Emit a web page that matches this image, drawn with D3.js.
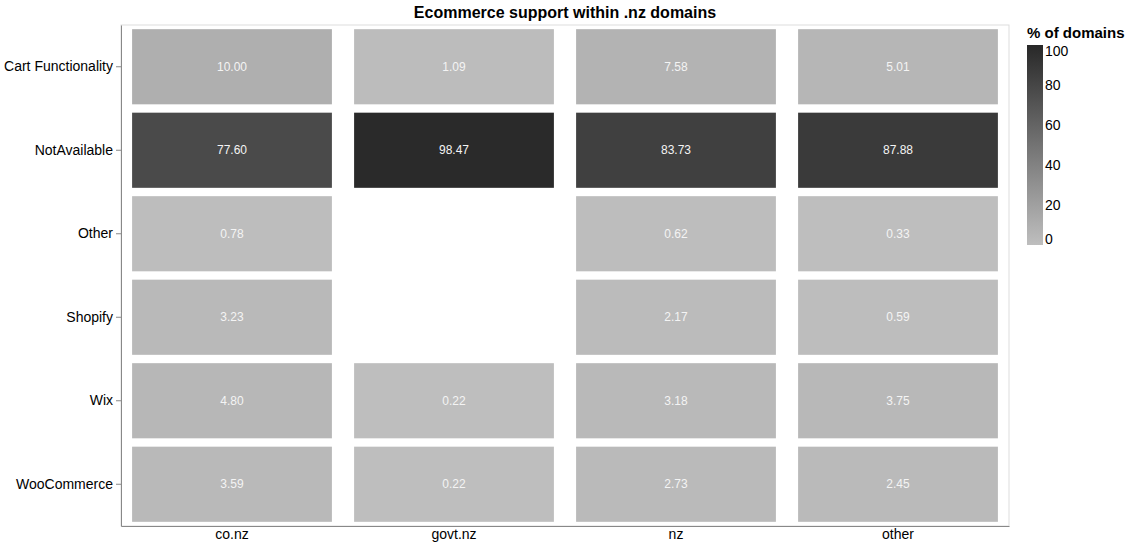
<!DOCTYPE html>
<html>
<head>
<meta charset="utf-8">
<script src="https://cdn.jsdelivr.net/npm/d3@7"></script>
<style>
  body { margin: 0; background: #fff; }
  svg text { font-family: "Liberation Sans", Arial, Helvetica, sans-serif; }
</style>
</head>
<body>
<div id="chart"></div>
<script>
const width = 1130, height = 546;
const margin = {top: 25, right: 121, bottom: 20, left: 121};

const domains = ["co.nz", "govt.nz", "nz", "other"];
const platforms = ["Cart Functionality", "NotAvailable", "Other", "Shopify", "Wix", "WooCommerce"];
// percentage of domains per platform, one array per domain (null = no data)
const coNzValues = [10.00, 77.60, 0.78, 3.23, 4.80, 3.59];
const govtNzValues = [1.09, 98.47, null, null, 0.22, 0.22];
const nzValues = [7.58, 83.73, 0.62, 2.17, 3.18, 2.73];
const otherValues = [5.01, 87.88, 0.33, 0.59, 3.75, 2.45];
const legendTicks = [0, 20, 40, 60, 80, 100];

const seriesByDomain = {
    "co.nz": coNzValues,
    "govt.nz": govtNzValues,
    "nz": nzValues,
    "other": otherValues
};

const cells = [];
domains.forEach(dom => {
    seriesByDomain[dom].forEach((v, i) => {
        if (v !== null) cells.push({domain: dom, platform: platforms[i], value: v});
    });
});

const plotW = width - margin.left - margin.right;
const plotH = height - margin.top - margin.bottom;

const svg = d3.select("#chart")
    .append("svg")
    .attr("width", width)
    .attr("height", height);

const g = svg.append("g")
    .attr("transform", "translate(" + margin.left + "," + margin.top + ")");

const xScale = d3.scaleBand()
    .domain(domains)
    .range([0, plotW])
    .paddingInner(0.1)
    .paddingOuter(0.05);

const yScale = d3.scaleBand()
    .domain(platforms)
    .range([0, plotH])
    .paddingInner(0.1)
    .paddingOuter(0.05);

const color = d3.scaleLinear()
    .domain([0, 100])
    .range(["#bebebe", "#282828"]);

// frame: light top/right, darker axes
g.append("rect")
    .attr("x", 0).attr("y", 0)
    .attr("width", plotW).attr("height", plotH)
    .attr("fill", "none")
    .attr("stroke", "#ddd");

g.selectAll("rect.cell")
    .data(cells)
    .enter().append("rect")
    .attr("class", "cell")
    .attr("x", d => xScale(d.domain))
    .attr("y", d => yScale(d.platform))
    .attr("width", xScale.bandwidth())
    .attr("height", yScale.bandwidth())
    .attr("fill", d => color(d.value));

g.selectAll("text.cell-label")
    .data(cells)
    .enter().append("text")
    .attr("class", "cell-label")
    .attr("x", d => xScale(d.domain) + xScale.bandwidth() / 2)
    .attr("y", d => yScale(d.platform) + yScale.bandwidth() / 2)
    .attr("dy", "0.35em")
    .attr("text-anchor", "middle")
    .attr("font-size", 12)
    .attr("fill", "#f4f4f4")
    .text(d => d.value.toFixed(2));

const xAxis = d3.axisBottom(xScale).tickSize(0).tickPadding(3);
const yAxis = d3.axisLeft(yScale).tickSizeInner(5).tickSizeOuter(0).tickPadding(3);

const xg = g.append("g")
    .attr("transform", "translate(0," + plotH + ")")
    .call(xAxis);
xg.select(".domain").attr("stroke", "#888");
xg.selectAll("text").attr("font-size", 14).attr("fill", "#000").attr("font-family", null);

const yg = g.append("g").call(yAxis);
yg.select(".domain").attr("stroke", "#888");
yg.selectAll(".tick line").attr("stroke", "#888");
yg.selectAll("text").attr("font-size", 14).attr("fill", "#000").attr("font-family", null);

svg.append("text")
    .attr("x", margin.left + plotW / 2)
    .attr("y", 18)
    .attr("text-anchor", "middle")
    .attr("font-size", 16)
    .attr("font-weight", "bold")
    .text("Ecommerce support within .nz domains");

// legend
const legendX = 1027, legendTop = 45, legendH = 200, legendW = 16;
const defs = svg.append("defs");
const grad = defs.append("linearGradient")
    .attr("id", "legend-grad")
    .attr("x1", "0").attr("y1", "1").attr("x2", "0").attr("y2", "0");
grad.append("stop").attr("offset", "0%").attr("stop-color", color(0));
grad.append("stop").attr("offset", "100%").attr("stop-color", color(100));

svg.append("text")
    .attr("x", legendX)
    .attr("y", 38)
    .attr("font-size", 15)
    .attr("font-weight", "bold")
    .text("% of domains");

svg.append("rect")
    .attr("x", legendX)
    .attr("y", legendTop)
    .attr("width", legendW)
    .attr("height", legendH)
    .attr("fill", "url(#legend-grad)");

const legendScale = d3.scaleLinear()
    .domain([0, 100])
    .range([legendTop + legendH, legendTop]);

svg.selectAll("text.legend-label")
    .data(legendTicks)
    .enter().append("text")
    .attr("class", "legend-label")
    .attr("x", legendX + legendW + 2)
    .attr("y", d => legendScale(d))
    .attr("dy", d => d === 100 ? "0.8em" : (d === 0 ? "-0.1em" : "0.35em"))
    .attr("font-size", 14)
    .text(d => d);
</script>
</body>
</html>
